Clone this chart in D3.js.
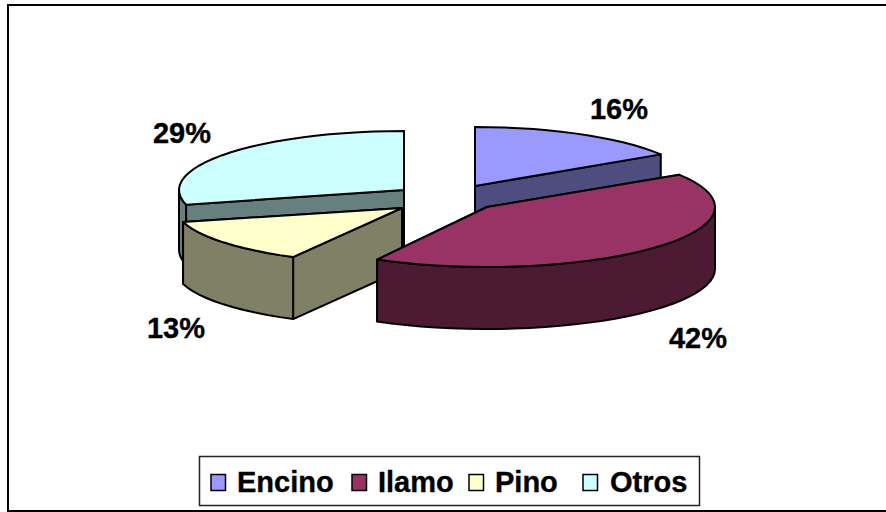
<!DOCTYPE html>
<html><head><meta charset="utf-8">
<script src="https://cdn.jsdelivr.net/npm/d3@7/dist/d3.min.js"></script>
<style>html,body{margin:0;padding:0;background:#fff}svg{display:block}text{font-family:"Liberation Sans",Arial,sans-serif;font-weight:bold;fill:#000;stroke:#000;stroke-width:.35px}</style>
</head><body><svg id="c" width="886" height="512"></svg>
<script>
const categories = ["Encino", "Ilamo", "Pino", "Otros"];
const values = [16, 42, 13, 29];
const labels = ["16%", "42%", "13%", "29%"];
const colors = ["#9999FF", "#993366", "#FFFFCC", "#CCFFFF"];

// layout only
const sliceGeom = [
  {cx:475, cy:186, rx:220, ry:59, depth:60},
  {cx:487, cy:207, rx:228, ry:60, depth:62},
  {cx:402, cy:208, rx:226, ry:56, depth:62},
  {cx:404, cy:190, rx:225, ry:59, depth:60}
];
const labelPos = [[619,109],[698,338],[176,328],[182,133]];
const drawOrder = [3,0,2,1];

const svg = d3.select("#c");
svg.append("rect").attr("x",8).attr("y",5).attr("width",900).attr("height",506)
  .attr("fill","#fff").attr("stroke","#000").attr("stroke-width",2);

const arcs = d3.pie().sort(null).value(d=>d)(values);
const color = d3.scaleOrdinal().domain(categories).range(colors);
const dark = c => { const r = d3.rgb(c); return d3.rgb(r.r/2, r.g/2, r.b/2).formatHex(); };

function pt(g, a, dz){ return [g.cx + g.rx*Math.sin(a), g.cy - g.ry*Math.cos(a) + (dz||0)]; }
const line = d3.line();
function samples(a0,a1){ const n=Math.max(2,Math.ceil((a1-a0)/(Math.PI/45))); return d3.range(n+1).map(i=>a0+(a1-a0)*i/n); }

drawOrder.forEach(i=>{
  const g = sliceGeom[i], a = arcs[i], c = color(categories[i]), w = dark(c);
  const group = svg.append("g");
  const style = s => s.attr("stroke","#000").attr("stroke-width",2).attr("stroke-linejoin","round");
  [a.endAngle, a.startAngle].forEach(t=>{
    const ctr=[g.cx,g.cy], p=pt(g,t);
    group.append("path").attr("d",line([ctr,p,[p[0],p[1]+g.depth],[ctr[0],ctr[1]+g.depth]])+"Z").attr("fill",w).call(style);
  });
  const lo=Math.max(a.startAngle,Math.PI/2), hi=Math.min(a.endAngle,3*Math.PI/2);
  if(hi>lo){
    const s=samples(lo,hi);
    const pts=s.map(t=>pt(g,t)).concat(s.slice().reverse().map(t=>pt(g,t,g.depth)));
    group.append("path").attr("d",line(pts)+"Z").attr("fill",w).call(style);
  }
  const top=[[g.cx,g.cy]].concat(samples(a.startAngle,a.endAngle).map(t=>pt(g,t)));
  group.append("path").attr("d",line(top)+"Z").attr("fill",c).call(style);
});

labels.forEach((t,i)=>{
  svg.append("text").attr("x",labelPos[i][0]).attr("y",labelPos[i][1]).attr("text-anchor","middle")
    .attr("dominant-baseline","central").attr("font-size",29).text(t);
});

// legend
svg.append("rect").attr("x",199.5).attr("y",456.5).attr("width",500).attr("height",49)
  .attr("fill","#fff").attr("stroke","#222").attr("stroke-width",1.5);
const legendX = [[211,238],[352,379],[469,496],[583,611]];
categories.forEach((k,i)=>{
  svg.append("rect").attr("x",legendX[i][0]).attr("y",474.5).attr("width",14.5).attr("height",16)
    .attr("fill",color(k)).attr("stroke","#000").attr("stroke-width",1.5);
  svg.append("text").attr("x",legendX[i][1]-1).attr("y",482).attr("dominant-baseline","central").attr("font-size",29).text(k);
});
</script></body></html>
